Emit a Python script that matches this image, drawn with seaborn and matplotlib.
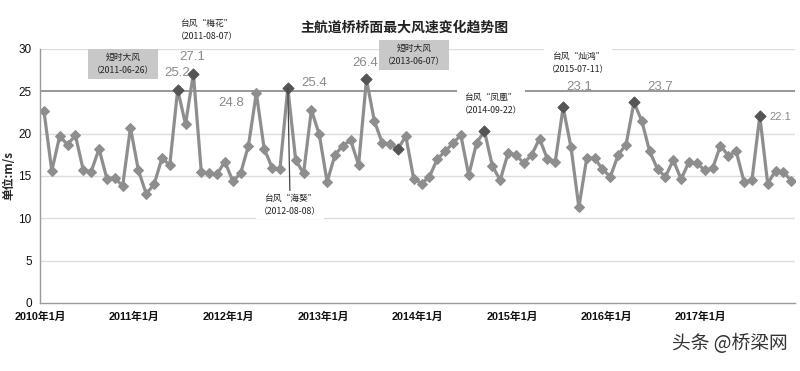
import numpy as np
import pandas as pd
import matplotlib
matplotlib.use("Agg")
import matplotlib.pyplot as plt
import seaborn as sns

# ---------------- data ----------------
wind_speed = [
    22.7, 15.6, 19.7, 18.7, 19.8, 15.7, 15.5, 18.2, 14.7, 14.8, 13.8, 20.7,   # 2010
    15.7, 12.9, 14.0, 17.1, 16.3, 25.2, 21.1, 27.1, 15.5, 15.3, 15.2, 16.7,   # 2011
    14.4, 15.3, 18.6, 24.8, 18.2, 16.0, 15.8, 25.4, 16.9, 15.3, 22.8, 19.9,   # 2012
    14.3, 17.5, 18.6, 19.2, 16.3, 26.4, 21.5, 18.9, 18.8, 18.2, 19.7, 14.7,   # 2013
    14.1, 14.9, 17.0, 17.9, 18.9, 19.8, 15.1, 18.9, 20.3, 16.2, 14.5, 17.7,   # 2014
    17.5, 16.5, 17.5, 19.4, 17.0, 16.7, 23.1, 18.4, 11.3, 17.1, 17.1, 15.8,   # 2015
    14.9, 17.5, 18.7, 23.7, 21.5, 17.9, 15.8, 14.9, 16.9, 14.6, 16.7, 16.5,   # 2016
    15.7, 15.9, 18.6, 17.4, 17.9, 14.3, 14.5, 22.1, 14.1, 15.6, 15.5, 14.4,   # 2017
]
highlight_idx = [17, 19, 31, 41, 45, 56, 66, 75, 91]
value_labels = ["25.2", "27.1", "24.8", "25.4", "26.4", "23.1", "23.7", "22.1"]
value_label_pos = [(17.0, 27.15), (18.8, 29.0), (23.8, 23.6), (34.3, 26.0),
                   (40.9, 28.3), (68.0, 25.5), (78.4, 25.5), (93.6, 22.0)]
value_label_size = [9.5, 9.5, 9.5, 9.5, 9.5, 9.5, 9.5, 8.0]
year_labels = [f"{y}年1月" for y in range(2010, 2018)]
title = "主航道桥桥面最大风速变化趋势图"
ylabel = "单位:m/s"
threshold = 25

df = pd.DataFrame({"idx": np.arange(len(wind_speed)), "speed": wind_speed})
hl = df.iloc[highlight_idx]

# ---------------- style ----------------
sns.set_style("white")
plt.rcParams["font.family"] = ["Liberation Sans", "Noto Sans CJK SC", "DejaVu Sans"]
cjk = ["Noto Sans CJK SC", "DejaVu Sans"]

fig = plt.figure(figsize=(8.0, 3.71), dpi=100)
ax = fig.add_axes([0.05, 0.1833, 0.944, 0.6847])

# grid lines
for g in [5, 10, 15, 20, 30]:
    ax.axhline(g, color="#dcdcdc", lw=1.0, zorder=0.5)
ax.axhline(threshold, color="#7a7a7a", lw=1.1, zorder=0.6)

sns.lineplot(data=df, x="idx", y="speed", ax=ax, color="#8e8e8e", lw=2.3,
             marker="D", markersize=5.5, markeredgecolor="#8e8e8e",
             markerfacecolor="#8e8e8e", zorder=2)
sns.scatterplot(data=hl, x="idx", y="speed", ax=ax, marker="D", s=34,
                color="#555555", edgecolor="#555555", zorder=3)

ax.set_xlim(-0.5, 95.5)
ax.set_ylim(0, 30)
ax.set_xticks(np.arange(-0.5, 95.5, 12))
ax.set_xticklabels(year_labels, fontsize=7.8, fontweight="bold", color="#111111")
ax.set_yticks([0, 5, 10, 15, 20, 25, 30])
ax.set_yticklabels(["0", "5", "10", "15", "20", "25", "30"], fontsize=8.5, color="#111111")
ax.tick_params(axis="x", direction="in", length=3, color="#999999", pad=6)
ax.tick_params(axis="y", length=0, pad=6)
ax.set_xlabel("")
ax.set_ylabel(ylabel, family=cjk, fontsize=8.5, fontweight="bold", labelpad=2)
for s in ["top", "right"]:
    ax.spines[s].set_visible(False)
for s in ["left", "bottom"]:
    ax.spines[s].set_color("#9a9a9a")
    ax.spines[s].set_linewidth(1.0)

fig.text(0.506, 0.925, title, family=cjk, fontsize=10, fontweight="bold",
         ha="center", va="center", color="#222222")

# value labels
for txt, (x, y), fs in zip(value_labels, value_label_pos, value_label_size):
    ax.text(x, y, txt, fontsize=fs, color="#8a8a8a", ha="center", va="center",
            zorder=4)

# event annotations
gray_box = dict(boxstyle="square,pad=0.45", fc="#c8c8c8", ec="none")
white_box = dict(boxstyle="square,pad=0.35", fc="white", ec="none")
ann_kw = dict(family=cjk, fontsize=6.3, ha="center", va="center",
              color="#222222", linespacing=1.6, zorder=5, clip_on=False)

ax.text(10.05, 28.2, "短时大风\n（2011-06-26）", bbox=gray_box, **ann_kw)
ax.text(20.7, 32.2, "台风“梅花”\n（2011-08-07）", bbox=white_box, **ann_kw)
ax.text(47.05, 29.3, "短时大风\n（2013-06-07）", bbox=gray_box, **ann_kw)
ax.text(56.8, 23.5, "台风“凤凰”\n（2014-09-22）", bbox=white_box, **ann_kw)
ax.text(67.9, 28.3, "台风“灿鸿”\n（2015-07-11）", bbox=white_box, **ann_kw)
ax.annotate("台风“海葵”\n（2012-08-08）", xy=(31, wind_speed[31]),
            xytext=(31.3, 11.6), bbox=white_box,
            arrowprops=dict(arrowstyle="-", color="#444444", lw=0.9,
                            shrinkA=0, shrinkB=0),
            **ann_kw)

# watermark
fig.text(0.985, 0.075, "头条 @桥梁网", family=cjk, fontsize=13.5, color="#333333",
         ha="right", va="center")

fig.savefig("out.png", dpi=100, facecolor="white")
